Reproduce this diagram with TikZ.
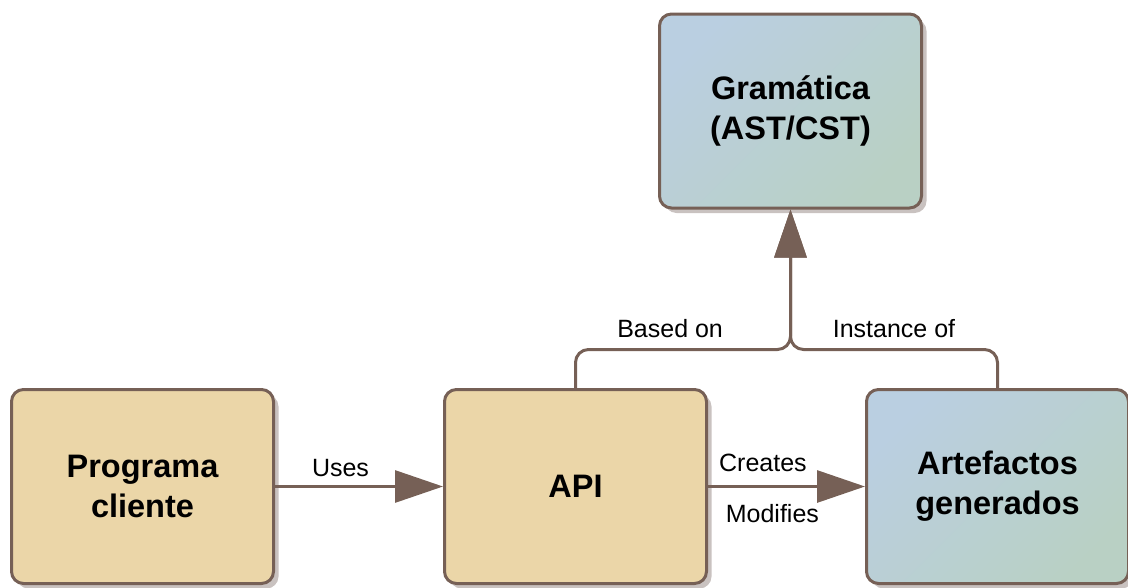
\documentclass[tikz,border=0pt]{standalone}
\usepackage{fontspec}
\setmainfont{Liberation Sans}
\usepackage{xcolor}
\usepackage{tikz}
\usetikzlibrary{
  arrows.meta,
  shadows
}

\definecolor{edgebrown}{RGB}{118,96,86}
\definecolor{boxtan}{RGB}{235,214,168}
\definecolor{boxblue}{RGB}{186,207,225}
\definecolor{boxgreen}{RGB}{185,208,196}
\definecolor{shadowgray}{RGB}{201,194,192}

\tikzset{
  block/.style={draw=edgebrown, line width=3pt, rounded corners=12pt,
    minimum width=262pt, minimum height=194pt, align=center,
    font=\bfseries\fontsize{32.5}{40}\selectfont,
    drop shadow={shadow xshift=5pt, shadow yshift=-5pt, fill=shadowgray, opacity=1}},
  tanblock/.style={block, fill=boxtan},
  blueblock/.style={block, top color=boxblue, bottom color=boxgreen, shading angle=45},
  conn/.style={draw=edgebrown, line width=3pt, -{Triangle[length=48pt, width=32pt]}},
  lbl/.style={font=\fontsize{25}{29}\selectfont, inner sep=2pt}
}

\begin{document}
\begin{tikzpicture}[x=1pt, y=-1pt]
\useasboundingbox (0,0) rectangle (1128,587);

% blocks
\node[tanblock] (prog) at (142.5,486.5) {Programa\\cliente};
\node[tanblock] (api) at (575.5,486.5) {API};
\node[blueblock] (art) at (997.5,486.5) {Artefactos\\generados};
\node[blueblock] (gram) at (790.5,111) {Gram\'atica\\(AST/CST)};

% junction under the grammar box
\coordinate (join) at ([yshift=-140pt]gram.south);

% connectors
\draw[conn] (prog) -- node[lbl, pos=0.39, above=6pt] {Uses} (api);
\draw[conn] (api) -- node[lbl, pos=0.35, above=11pt] {Creates}
  node[lbl, pos=0.41, below=14pt] {Modifies} (art);
\draw[conn, rounded corners=13pt] (api.north) |- node[lbl, pos=0.72, above=8pt] {Based on} (join) -- (gram.south);
\draw[conn, rounded corners=13pt] (art.north) |- node[lbl, pos=0.75, above=8pt] {Instance of} (join) -- (gram.south);
\end{tikzpicture}
\end{document}
